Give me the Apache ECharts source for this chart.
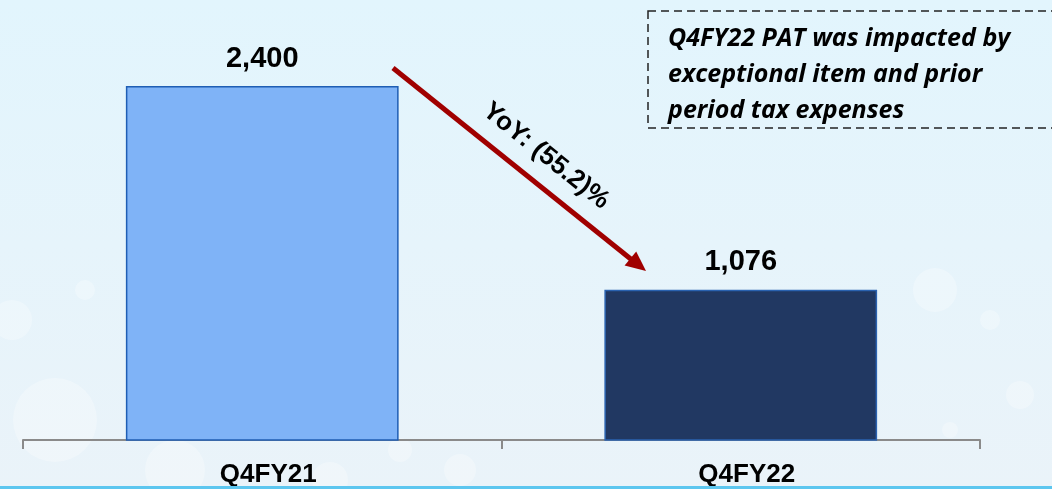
<!DOCTYPE html>
<html>
<head>
<meta charset="utf-8">
<script src="https://cdn.jsdelivr.net/npm/echarts@6/dist/echarts.min.js"></script>
<style>
html, body { margin: 0; padding: 0; }
#chart { width: 1052px; height: 489px; }
</style>
</head>
<body>
<div id="chart"></div>
<script>
// data
var categories = ['Q4FY21', 'Q4FY22'];
var patValues = [2400, 1076];
var barColors = ['#7fb3f7', '#213862'];
var yoyText = 'YoY: (55.2)%';
var noteText = 'Q4FY22 PAT was impacted by\nexceptional item and prior\nperiod tax expenses';

var chart = echarts.init(document.getElementById('chart'));

// faint bokeh circles in the background
var bokeh = [
	[55, 420, 42], [12, 320, 20], [175, 470, 30], [85, 290, 10],
	[400, 450, 12], [460, 470, 16], [935, 290, 22], [990, 320, 10],
	[1020, 395, 14], [950, 430, 8], [330, 480, 18]
];
var bgCircles = bokeh.map(function(c) {
	return {
		type: 'circle',
		z: 0,
		shape: { cx: c[0], cy: c[1], r: c[2] },
		style: { fill: 'rgba(255,255,255,0.28)' }
	};
});

var option = {
	backgroundColor: {
		type: 'linear', x: 0, y: 0, x2: 0, y2: 1,
		colorStops: [
			{ offset: 0, color: '#e2f5fd' },
			{ offset: 1, color: '#eaf3f9' }
		]
	},
	grid: { left: 23, right: 72, top: 86, bottom: 49 },
	xAxis: {
		type: 'category',
		data: categories,
		axisLine: { show: true, lineStyle: { color: '#8a8a8a', width: 2 } },
		axisTick: { show: true, length: 9, lineStyle: { color: '#8a8a8a', width: 2 } },
		axisLabel: {
			margin: 22,
			padding: [0, 0, 0, 12],
			color: '#000',
			fontSize: 26,
			fontWeight: 'bold',
			fontFamily: 'Liberation Sans'
		}
	},
	yAxis: {
		type: 'value',
		min: 100,
		max: 2400,
		show: false
	},
	series: [{
		type: 'bar',
		barWidth: '57%',
		data: patValues.map(function(v, i) {
			return {
				value: v,
				itemStyle: {
					color: barColors[i],
					borderColor: i === 0 ? '#1f5eb4' : '#2a62b0',
					borderWidth: 1.5
				}
			};
		}),
		label: {
			show: true,
			position: 'top',
			distance: 13,
			color: '#000',
			fontSize: 29,
			fontWeight: 'bold',
			fontFamily: 'Liberation Sans',
			formatter: function(p) {
				return p.value.toLocaleString('en-US');
			}
		}
	}],
	graphic: bgCircles.concat([
		{ //底部青色线
			type: 'rect',
			z: 1,
			shape: { x: 0, y: 486, width: 1052, height: 3 },
			style: { fill: '#5cc6ef' }
		},
		{ //箭头
			type: 'line',
			z: 10,
			shape: { x1: 393, y1: 68, x2: 632, y2: 260 },
			style: { stroke: '#a00000', lineWidth: 5 }
		},
		{
			type: 'polygon',
			z: 10,
			shape: { points: [[646, 271], [624.6, 265.5], [636.2, 251.5]] },
			style: { fill: '#a00000' }
		},
		{
			type: 'text',
			z: 10,
			x: 546,
			y: 156,
			rotation: -0.675,
			style: {
				text: yoyText,
				fill: '#000',
				font: 'bold 26px "Liberation Sans"',
				align: 'center',
				verticalAlign: 'middle'
			}
		},
		{ //注释框
			type: 'rect',
			z: 10,
			shape: { x: 648, y: 11, width: 420, height: 117 },
			style: { fill: 'none', stroke: '#222', lineWidth: 1.5, lineDash: [8, 5] }
		},
		{
			type: 'text',
			z: 10,
			x: 668,
			y: 21,
			style: {
				text: noteText,
				fill: '#000',
				font: 'italic bold 25px "Open Sans"',
				lineHeight: 36,
				align: 'left',
				verticalAlign: 'top'
			}
		}
	])
};

chart.setOption(option);
window.onresize = chart.resize;
</script>
</body>
</html>
